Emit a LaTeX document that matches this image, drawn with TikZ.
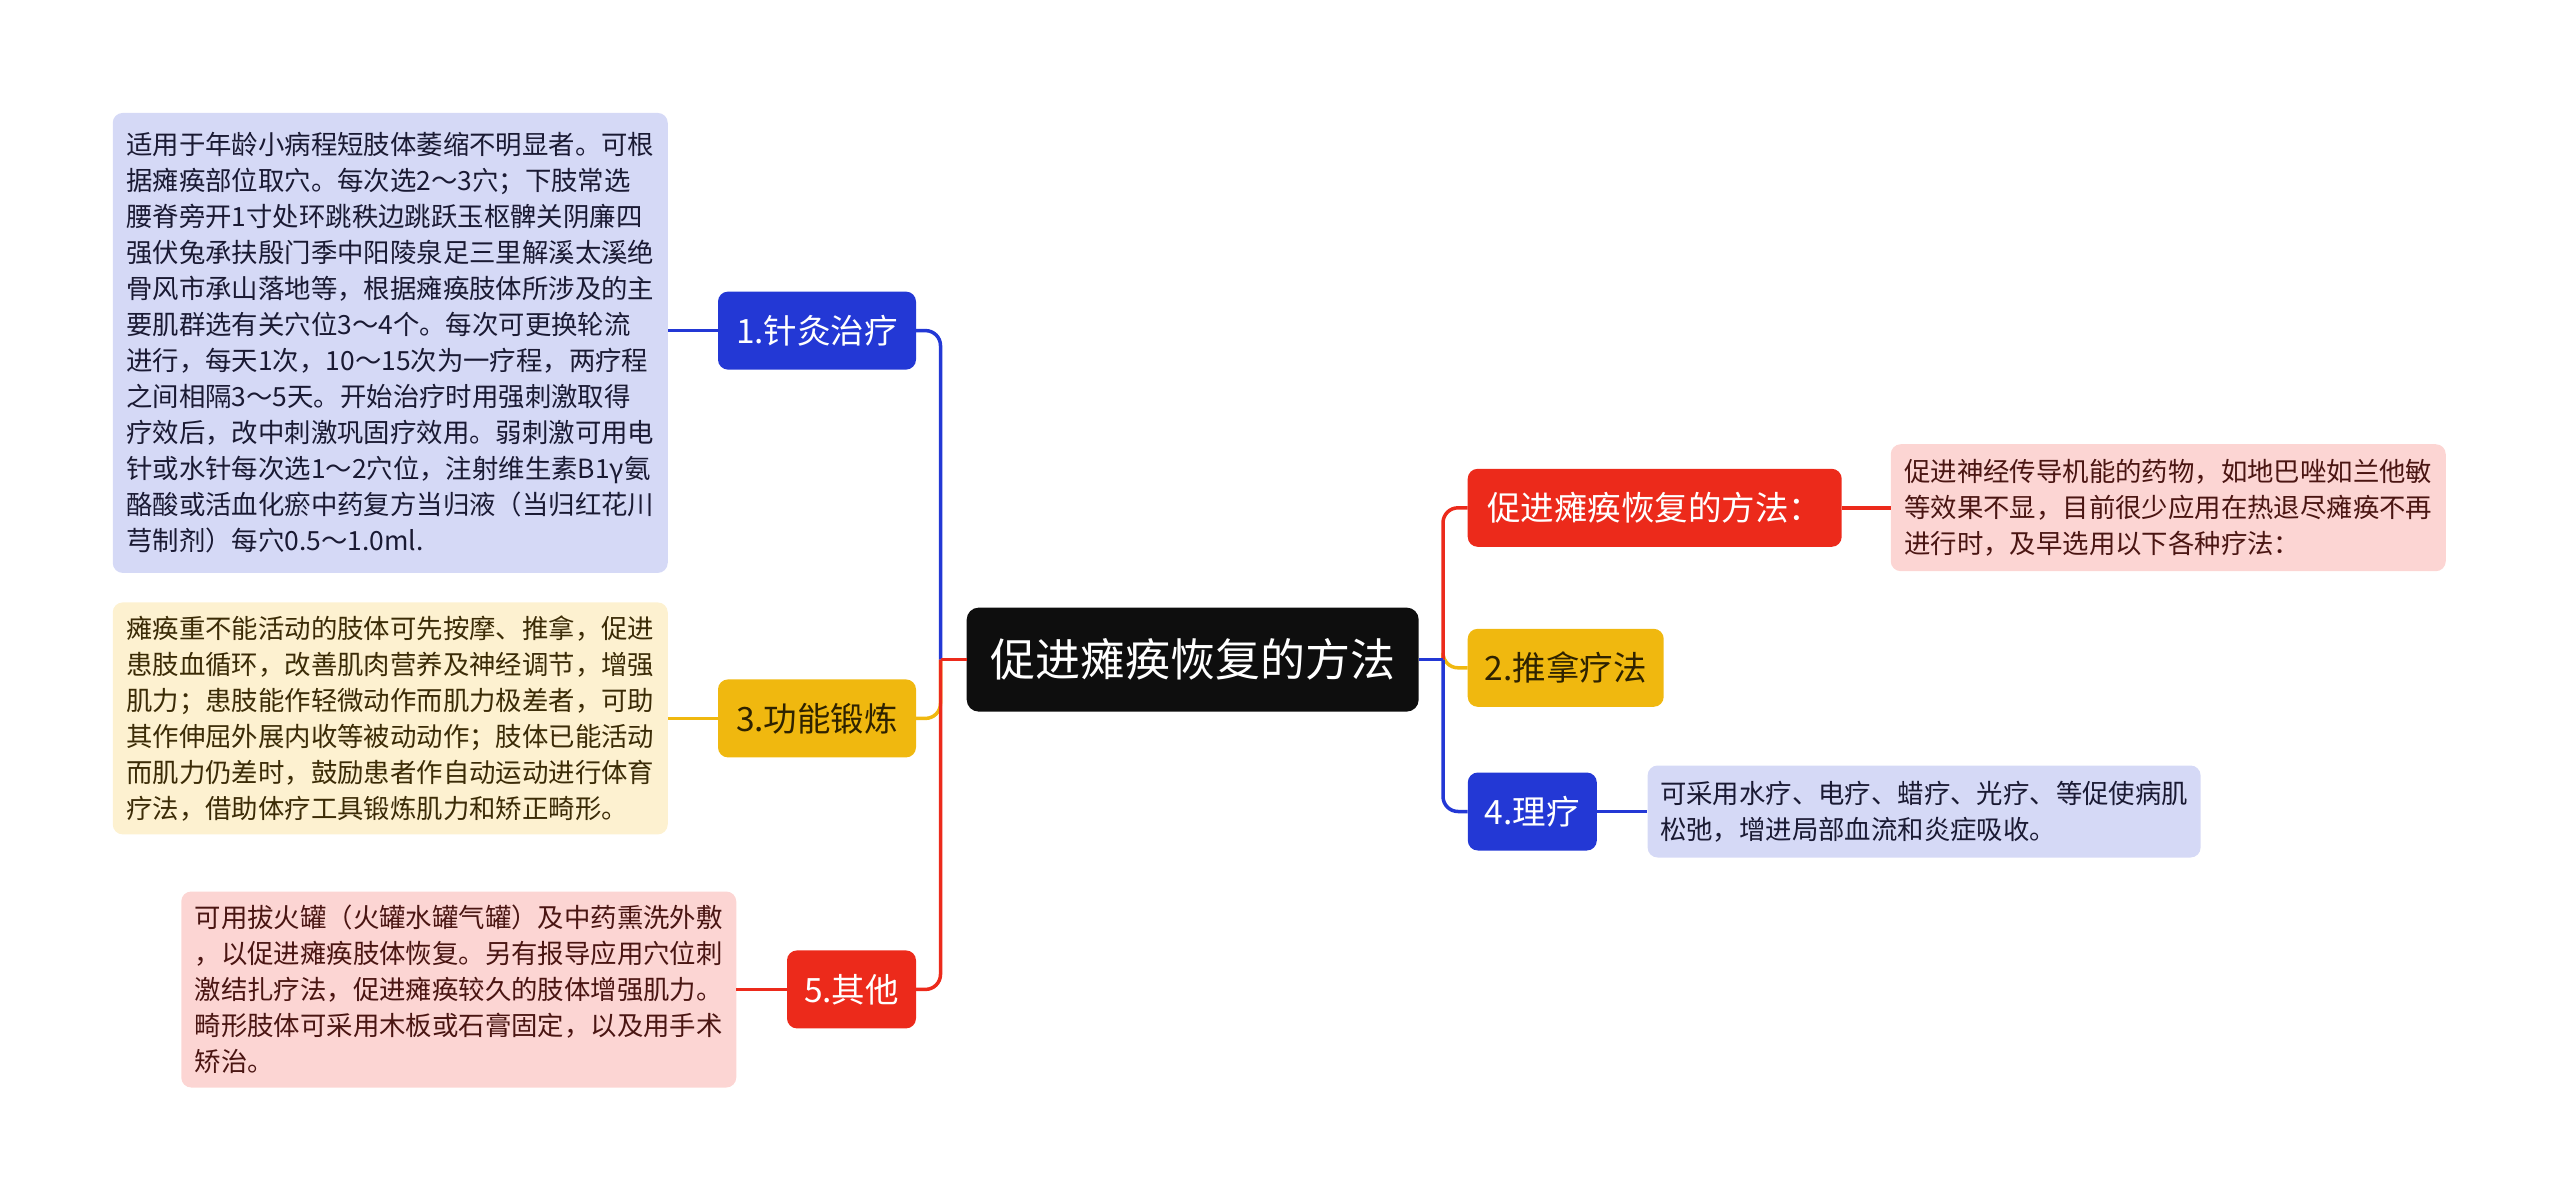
\documentclass[tikz,border=0pt]{standalone}
\usepackage{fontspec}
\setmainfont{Noto Sans CJK SC}
\definecolor{cblue}{HTML}{2338D5}
\definecolor{cyel}{HTML}{F0B80F}
\definecolor{cred}{HTML}{EC2A1B}
\definecolor{cblack}{HTML}{0E0E0E}
\definecolor{lblue}{HTML}{D5D9F6}
\definecolor{lyel}{HTML}{FDF1D0}
\definecolor{lpink}{HTML}{FCD5D3}
\definecolor{tnavy}{HTML}{1A1A33}
\definecolor{tbrown}{HTML}{3B2B06}
\definecolor{tmaroon}{HTML}{4A1512}
\definecolor{tdark}{HTML}{2E2200}
\begin{document}
\begin{tikzpicture}[x=1pt,y=-1pt,
  rootbox/.style={fill=cblack,text=white,rounded corners=12pt,inner sep=0pt,
    minimum width=452pt,minimum height=104pt,font={\fontsize{45}{54}\selectfont}},
  branchbox/.style={rounded corners=10pt,inner sep=0pt,minimum height=78pt,
    font={\fontsize{33.5}{40}\selectfont}},
  leafbox/.style={rounded corners=10pt,inner sep=0pt,align=left,
    font={\fontsize{26.4}{36}\selectfont}},
  conn/.style={line width=3.5pt},
  trunk/.style={line width=3.5pt,rounded corners=15pt}
]
\useasboundingbox (0,0) rectangle (2560,1202);

% root
\node[rootbox] (c) at (1192.7,659.6) {促进瘫痪恢复的方法};

% left branches
\node[branchbox,fill=cblue,text=white,minimum width=198pt] (b1) at (817,330.6) {1.针灸治疗};
\node[branchbox,fill=cyel,text=tdark,minimum width=198pt] (b3) at (817,718.4) {3.功能锻炼};
\node[branchbox,fill=cred,text=white,minimum width=129pt] (b5) at (851.5,989.4) {5.其他};

% right branches
\node[branchbox,fill=cred,text=white,minimum width=374pt] (r1) at (1654.7,507.8) {促进瘫痪恢复的方法：};
\node[branchbox,fill=cyel,text=tdark,minimum width=196pt] (b2) at (1565.7,667.8) {2.推拿疗法};
\node[branchbox,fill=cblue,text=white,minimum width=129pt] (b4) at (1532.3,811.5) {4.理疗};

% leaves
\node[leafbox,fill=lblue,text=tnavy,minimum width=555pt,minimum height=460pt] (l1) at (390.25,342.9) {%
适用于年龄小病程短肢体萎缩不明显者。可根\\
据瘫痪部位取穴。每次选2～3穴；下肢常选\\
腰脊旁开1寸处环跳秩边跳跃玉枢髀关阴廉四\\
强伏兔承扶殷门季中阳陵泉足三里解溪太溪绝\\
骨风市承山落地等，根据瘫痪肢体所涉及的主\\
要肌群选有关穴位3～4个。每次可更换轮流\\
进行，每天1次，10～15次为一疗程，两疗程\\
之间相隔3～5天。开始治疗时用强刺激取得\\
疗效后，改中刺激巩固疗效用。弱刺激可用电\\
针或水针每次选1～2穴位，注射维生素B1γ氨\\
酪酸或活血化瘀中药复方当归液（当归红花川\\
芎制剂）每穴0.5～1.0ml.};

\node[leafbox,fill=lyel,text=tbrown,minimum width=555pt,minimum height=232pt] (l3) at (390.25,718.4) {%
瘫痪重不能活动的肢体可先按摩、推拿，促进\\
患肢血循环，改善肌肉营养及神经调节，增强\\
肌力；患肢能作轻微动作而肌力极差者，可助\\
其作伸屈外展内收等被动动作；肢体已能活动\\
而肌力仍差时，鼓励患者作自动运动进行体育\\
疗法，借助体疗工具锻炼肌力和矫正畸形。};

\node[leafbox,fill=lpink,text=tmaroon,minimum width=555pt,minimum height=196pt] (l5) at (458.75,989.5) {%
可用拔火罐（火罐水罐气罐）及中药熏洗外敷\\
，以促进瘫痪肢体恢复。另有报导应用穴位刺\\
激结扎疗法，促进瘫痪较久的肢体增强肌力。\\
畸形肢体可采用木板或石膏固定，以及用手术\\
矫治。};

\node[leafbox,fill=lpink,text=tmaroon,minimum width=555pt,minimum height=127pt] (lr) at (2168.25,507.7) {%
促进神经传导机能的药物，如地巴唑如兰他敏\\
等效果不显，目前很少应用在热退尽瘫痪不再\\
进行时，及早选用以下各种疗法：};

\node[leafbox,fill=lblue,text=tnavy,minimum width=553pt,minimum height=92pt] (l4) at (1924.1,811.5) {%
可采用水疗、电疗、蜡疗、光疗、等促使病肌\\
松弛，增进局部血流和炎症吸收。};

% trunk points
\coordinate (tl) at (940.5,659.6);
\coordinate (tr) at (1443,659.6);

% left connectors
\draw[trunk,cyel] (tl) |- (b3.east);
\draw[trunk,cblue] (tl) |- (b1.east);
\draw[trunk,cred] (tl) |- (b5.east);
\draw[conn,cred] (c.west) -- (tl);

% right connectors
\draw[trunk,cyel] (tr) |- (b2.west);
\draw[trunk,cred] (tr) |- (r1.west);
\draw[trunk,cblue] (tr) |- (b4.west);
\draw[conn,cblue] (c.east) -- (tr);

% branch to leaf
\draw[conn,cblue] (b1.west) -- (b1.west -| l1.east);
\draw[conn,cyel] (b3.west) -- (b3.west -| l3.east);
\draw[conn,cred] (b5.west) -- (b5.west -| l5.east);
\draw[conn,cred] (r1.east) -- (r1.east -| lr.west);
\draw[conn,cblue] (b4.east) -- (b4.east -| l4.west);
\end{tikzpicture}
\end{document}
